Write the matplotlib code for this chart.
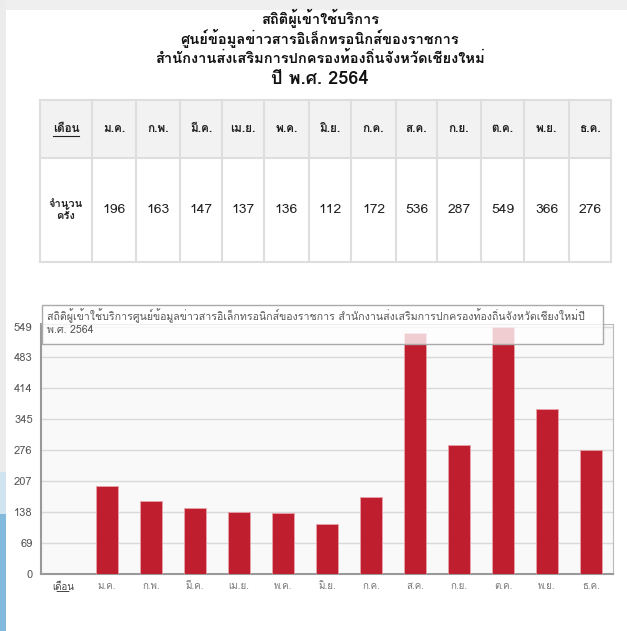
import matplotlib
matplotlib.use("Agg")
import matplotlib.pyplot as plt
from matplotlib.patches import Rectangle
from matplotlib import font_manager as fm
from matplotlib.ft2font import FT2Font

# find a font that has Thai glyphs
thai_fonts = []
for f in fm.fontManager.ttflist:
    try:
        if 0x0E01 in FT2Font(f.fname).get_charmap() and f.name not in thai_fonts:
            thai_fonts.append(f.name)
    except Exception:
        pass
plt.rcParams['font.family'] = thai_fonts + ['DejaVu Sans']

# data
title_lines = ['สถิติผู้เข้าใช้บริการ',
               'ศูนย์ข้อมูลข่าวสารอิเล็กทรอนิกส์ของราชการ',
               'สำนักงานส่งเสริมการปกครองท้องถิ่นจังหวัดเชียงใหม่',
               'ปี พ.ศ. 2564']
header_label = 'เดือน'
row_label = 'จำนวน\nครั้ง'
months = ['ม.ค.', 'ก.พ.', 'มี.ค.', 'เม.ย.', 'พ.ค.', 'มิ.ย.',
          'ก.ค.', 'ส.ค.', 'ก.ย.', 'ต.ค.', 'พ.ย.', 'ธ.ค.']
counts = [196, 163, 147, 137, 136, 112, 172, 536, 287, 549, 366, 276]
yticks = [0, 69, 138, 207, 276, 345, 414, 483, 549]
chart_title = ('สถิติผู้เข้าใช้บริการศูนย์ข้อมูลข่าวสารอิเล็กทรอนิกส์ของราชการ '
               'สำนักงานส่งเสริมการปกครองท้องถิ่นจังหวัดเชียงใหม่ปี\nพ.ศ. 2564')

W, H = 627, 631
fig = plt.figure(figsize=(W / 100, H / 100), dpi=100)
fig.patch.set_facecolor('white')

# page layer in pixel coordinates
page = fig.add_axes([0, 0, 1, 1])
page.set_xlim(0, W)
page.set_ylim(H, 0)
page.axis('off')

# browser chrome bits
page.add_patch(Rectangle((0, 0), W, 10, color='#efefef', lw=0))
page.add_patch(Rectangle((0, 0), 6, 472, color='#ececec', lw=0))
page.add_patch(Rectangle((0, 472), 6, 42, color='#cfe4ef', lw=0))
page.add_patch(Rectangle((0, 514), 6, H - 514, color='#84b9de', lw=0))

# heading
title_y = [18, 38, 58, 79]
for i, line in enumerate(title_lines):
    page.text(320, title_y[i], line, ha='center', va='center',
              fontsize=13 if i == 3 else 10.5, fontweight='bold', color='#111111')

# html table
col_edges = [40, 92, 136, 180, 222, 264, 309, 351, 396, 437, 481, 524, 569, 611]
top, mid, bot = 100, 158, 262
page.add_patch(Rectangle((col_edges[0], top), col_edges[-1] - col_edges[0], mid - top,
                         facecolor='#f2f2f2', edgecolor='none'))
for x in col_edges:
    page.plot([x, x], [top, bot], color='#dedede', lw=1.5)
for y in [top, mid, bot]:
    page.plot([col_edges[0], col_edges[-1]], [y, y], color='#dedede', lw=1.5)

hy = (top + mid) / 2
by = (mid + bot) / 2
xc = (col_edges[0] + col_edges[1]) / 2
page.text(xc, hy, header_label, ha='center', va='center', fontsize=8.5,
          fontweight='bold', color='#222222')
page.plot([xc - 13, xc + 13], [hy + 7, hy + 7], color='#222222', lw=0.8)
page.text(xc, by, row_label, ha='center', va='center', fontsize=8,
          fontweight='bold', color='#222222', linespacing=1.1)
for i, (m, v) in enumerate(zip(months, counts)):
    cx = (col_edges[i + 1] + col_edges[i + 2]) / 2
    page.text(cx, hy, m, ha='center', va='center', fontsize=8.5,
              fontweight='bold', color='#222222')
    page.text(cx, by, str(v), ha='center', va='center', fontsize=10,
              color='#222222')

# bar chart
x0, x1, y0, y1 = 41, 613, 324, 574
ax = fig.add_axes([x0 / W, 1 - y1 / H, (x1 - x0) / W, (y1 - y0) / H])
ax.set_facecolor('#f9f9f9')
pos = list(range(1, len(months) + 1))
ax.bar(pos, counts, width=0.48, color='#be1e2d', edgecolor='#e8a3ab',
       linewidth=0.6, zorder=3)
ax.set_xlim(-0.5, len(months) + 0.5)
ax.set_ylim(0, 556)
ax.set_yticks(yticks)
ax.set_yticklabels([str(t) for t in yticks], fontsize=8, color='#555555')
ax.set_xticks([0] + pos)
labels = ax.set_xticklabels([header_label] + months, fontsize=7, color='#777777')
labels[0].set_color('#444444')
ax.grid(axis='y', color='#d9d9d9', lw=1, zorder=1)
ax.tick_params(length=0, pad=6)
for s in ['top', 'right']:
    ax.spines[s].set_color('#bbbbbb')
for s in ['left', 'bottom']:
    ax.spines[s].set_color('#999999')
    ax.spines[s].set_linewidth(1.5)

# underline under the first x label
ax.annotate('', xy=(0.2, -0.07), xytext=(-0.2, -0.07),
            xycoords=('data', 'axes fraction'),
            arrowprops=dict(arrowstyle='-', color='#444444', lw=0.7))

# chart caption box, semi transparent over the plot
bx0, bx1, by0, by1 = 42, 603, 305, 344
fig.add_artist(Rectangle((bx0 / W, 1 - by1 / H), (bx1 - bx0) / W, (by1 - by0) / H,
                         transform=fig.transFigure, facecolor='white', alpha=0.78,
                         edgecolor='none', zorder=5))
fig.add_artist(Rectangle((bx0 / W, 1 - by1 / H), (bx1 - bx0) / W, (by1 - by0) / H,
                         transform=fig.transFigure, facecolor='none',
                         edgecolor='#aaaaaa', lw=1, zorder=6))
fig.text((bx0 + 5) / W, 1 - (by0 + 3) / H, chart_title, ha='left', va='top',
         fontsize=7.6, color='#555555', linespacing=1.35, zorder=7)

fig.savefig('out.png', dpi=100)
